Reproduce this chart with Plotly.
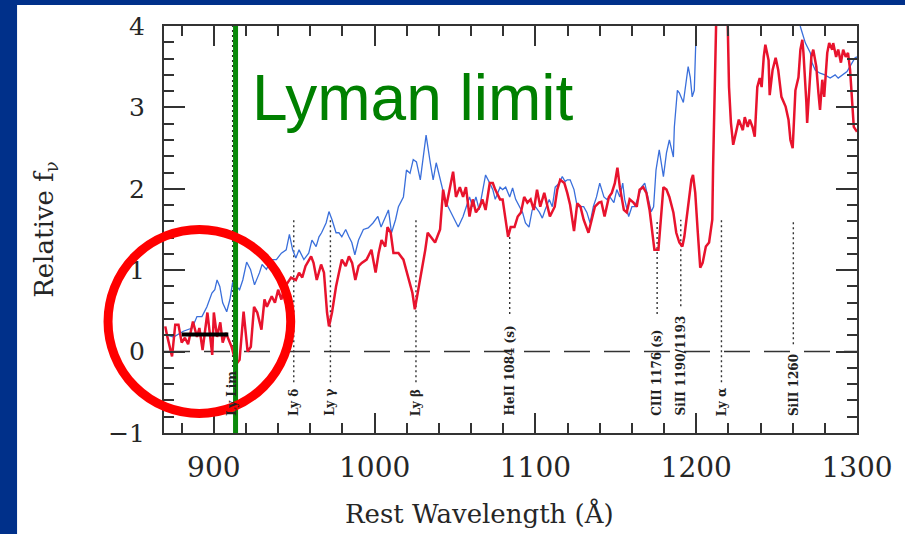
import plotly.graph_objects as go

# ---------------- data ----------------
blue_wl = [869.8, 875, 881, 886.5, 889.5, 892.6, 895.7, 898.8, 900.6, 902,
           903.7, 905.5, 908, 910, 911.7, 914, 916, 918, 920.4, 922.8,
           925.3, 928.4, 930, 932.7, 935.8, 938.9, 942, 945, 947, 949,
           951, 953, 956, 959, 961, 963.6, 965.4, 967, 969.8, 971.6,
           973.5, 976, 977.8, 979.6, 982, 984, 985.8, 987.7, 990, 993,
           996, 999, 1002, 1004, 1006.6, 1008.6, 1010.5, 1013, 1014.8, 1017.9,
           1019.8, 1022, 1024, 1026, 1028.4, 1030, 1032, 1034.6, 1036.4, 1038.3,
           1040.7, 1043.8, 1045.7, 1048.8, 1052, 1055, 1056.8, 1059, 1061, 1063,
           1065, 1067, 1069, 1071.6, 1073.5, 1075, 1078, 1079.6, 1081.5, 1084,
           1085.8, 1087.7, 1090, 1092, 1093.8, 1096, 1098, 1100, 1102.5, 1104.3,
           1106, 1108.6, 1110.5, 1112.3, 1114.8, 1116.7, 1118.5, 1119.8, 1121.6, 1124,
           1126, 1128, 1130, 1132, 1134, 1136, 1138, 1140, 1142.6, 1144.4,
           1146.3, 1148.8, 1150.6, 1152.5, 1154.3, 1155.5, 1158, 1160, 1161.7, 1164,
           1166, 1168, 1170, 1172, 1173.5, 1175, 1177, 1179.6, 1181.5, 1183.3,
           1185.8, 1186.4, 1188.3, 1189.5, 1192, 1193.8, 1195, 1196.3, 1197.5, 1198.8,
           1199.4, 1200, 1201, 1263, 1264.8, 1267.9, 1271, 1272, 1274, 1277,
           1280, 1283.3, 1286.4, 1288.3, 1290.7, 1293.8, 1297, 1298.8, 1300]
blue_flux = [0.21, 0.18, 0.25, 0.29, 0.43, 0.43, 0.55, 0.72, 0.76, 0.88,
             0.80, 0.60, 0.49, 0.64, 0.85, 0.80, 0.76, 0.88, 1.10, 1.01,
             0.82, 0.97, 1.07, 1.01, 1.13, 1.13, 1.21, 1.25, 1.44, 1.25,
             1.15, 1.25, 1.13, 1.21, 1.37, 1.29, 1.41, 1.46, 1.58, 1.72,
             1.62, 1.46, 1.46, 1.41, 1.50, 1.41, 1.34, 1.19, 1.37, 1.50,
             1.52, 1.58, 1.66, 1.53, 1.64, 1.74, 1.46, 1.62, 1.78, 1.90,
             2.23, 2.19, 2.36, 2.33, 2.11, 2.36, 2.66, 2.32, 2.11, 2.32,
             2.11, 1.87, 1.78, 1.66, 1.53, 1.66, 1.78, 1.90, 1.78, 1.90,
             1.74, 1.95, 2.17, 2.07, 1.99, 1.87, 2.02, 1.99, 2.02, 1.90,
             2.01, 1.87, 1.78, 1.71, 1.58, 1.53, 1.74, 1.78, 1.71, 1.64,
             1.74, 1.87, 1.78, 2.02, 2.07, 2.15, 2.09, 2.11, 2.11, 1.99,
             1.78, 1.78, 1.78, 1.71, 1.58, 1.78, 1.90, 2.07, 1.90, 1.87,
             1.90, 1.83, 1.99, 1.90, 2.07, 1.87, 1.66, 1.78, 1.78, 1.90,
             2.02, 2.07, 1.90, 1.72, 1.78, 2.23, 2.48, 2.15, 2.44, 2.60,
             2.39, 2.76, 3.21, 3.18, 3.06, 3.34, 3.50, 3.37, 3.13, 3.21,
             3.83, 4.07, 4.60, 4.60, 3.99, 3.79, 3.67, 3.55, 3.46, 3.42,
             3.40, 3.36, 3.40, 3.36, 3.40, 3.44, 3.55, 3.61, 3.62]

red_wl = [869.8, 871, 874, 876, 878, 880, 882, 884, 887, 889.5,
          891, 893, 896, 897, 899, 900, 902, 904, 905.5, 907.5,
          909, 911, 912.5, 914.5, 916, 918.5, 921, 923, 925, 927,
          929.6, 931.5, 933, 936, 938, 940, 942, 944, 948, 951,
          953, 955, 957, 960.5, 962, 964, 966.7, 968.5, 970.4, 971.6,
          973.5, 976, 977.8, 979.6, 982, 984, 986, 988, 990, 992,
          995, 998, 1000.6, 1002.5, 1004.3, 1006.6, 1008, 1010, 1011.7, 1014.8,
          1017.9, 1021, 1023.5, 1025, 1026.5, 1029, 1031.5, 1033, 1035, 1037.6,
          1040.7, 1042.6, 1044.5, 1047, 1048.8, 1050.6, 1053, 1055, 1056.8, 1059,
          1061, 1063, 1065.4, 1067, 1069, 1071.6, 1073.5, 1075, 1078, 1079.6,
          1081.5, 1083, 1084.6, 1087, 1089, 1091, 1093, 1095, 1097, 1099,
          1101, 1103, 1105.5, 1107, 1109, 1112, 1113.6, 1115.4, 1118, 1119.8,
          1121.6, 1124, 1126, 1128, 1130, 1133, 1135, 1137, 1139.5, 1141,
          1143, 1145.7, 1147.5, 1149.4, 1151, 1152.5, 1155, 1156.8, 1158.6, 1161,
          1163, 1164.8, 1167, 1169, 1171, 1172.8, 1174, 1176.5, 1177.8, 1179.6,
          1181.5, 1183.3, 1185.8, 1187.6, 1189.5, 1191.4, 1192.6, 1195, 1197, 1198,
          1199.4, 1201, 1202.5, 1204, 1206, 1208, 1210, 1210.5, 1211.7, 1212.3,
          1213, 1219, 1219.7, 1220.4, 1221.6, 1223, 1224.7, 1226.5, 1229, 1230.2,
          1232, 1233.3, 1235, 1236.4, 1238, 1239.5, 1240.7, 1242, 1243, 1245,
          1245.7, 1247.5, 1249.4, 1251, 1253, 1255.6, 1257.4, 1258.6, 1260, 1260.5,
          1261.7, 1263.6, 1264.8, 1266, 1266.7, 1268.5, 1269, 1270.4, 1271.6, 1272.8,
          1274.7, 1276, 1277, 1278.4, 1279.6, 1281.5, 1282.7, 1284.6, 1285.2, 1287,
          1288.3, 1290, 1291.4, 1293, 1294.4, 1295.7, 1297, 1298, 1299.4, 1300]
red_flux = [0.31, 0.19, -0.06, 0.33, 0.33, 0.11, 0.17, 0.09, 0.37, 0.18,
            0.29, 0.02, 0.48, 0.31, -0.04, 0.48, 0.18, 0.36, 0.11, 0.23,
            0.15, 0.06, -0.05, -0.14, -0.10, 0.49, 0.00, 0.06, 0.55, 0.48,
            0.27, 0.64, 0.55, 0.68, 0.60, 0.76, 0.64, 0.79, 0.91, 0.88,
            0.97, 0.91, 1.05, 1.17, 1.09, 0.88, 1.07, 0.97, 0.48, 0.31,
            0.48, 0.80, 0.97, 1.13, 1.05, 1.17, 1.09, 0.88, 1.05, 1.09,
            1.13, 1.25, 0.97, 1.21, 1.37, 1.29, 1.53, 1.46, 1.21, 1.21,
            1.13, 0.92, 0.72, 0.52, 0.68, 0.97, 1.25, 1.46, 1.41, 1.34,
            1.50, 1.99, 1.78, 2.02, 2.21, 1.90, 2.02, 1.90, 2.02, 1.66,
            1.87, 1.71, 1.78, 1.87, 1.74, 2.07, 2.07, 1.99, 1.87, 1.87,
            1.58, 1.41, 1.53, 1.53, 1.66, 1.71, 1.90, 1.83, 1.87, 1.74,
            1.99, 1.78, 1.95, 1.83, 1.66, 1.78, 1.99, 2.11, 2.07, 1.95,
            1.80, 1.48, 1.82, 1.78, 1.62, 1.46, 1.62, 1.78, 1.83, 1.84,
            1.66, 1.90, 1.95, 2.07, 2.26, 2.02, 1.74, 1.71, 1.87, 1.83,
            1.78, 1.99, 2.02, 1.95, 1.74, 1.46, 1.25, 1.25, 1.62, 2.02,
            1.99, 1.90, 1.71, 1.46, 1.34, 1.29, 1.41, 1.78, 2.11, 2.17,
            1.95, 1.46, 1.03, 1.09, 1.29, 1.34, 1.62, 2.27, 3.25, 4.07,
            4.60, 4.60, 3.99, 3.25, 2.81, 2.54, 2.69, 2.85, 2.72, 2.88,
            2.76, 2.85, 2.76, 2.64, 3.25, 3.36, 3.25, 3.62, 3.77, 3.58,
            3.15, 3.46, 3.61, 3.46, 3.13, 3.01, 2.85, 2.60, 2.50, 2.69,
            3.21, 3.37, 3.71, 3.83, 3.67, 3.06, 2.81, 3.25, 3.62, 3.71,
            3.50, 3.18, 2.97, 3.34, 3.13, 3.67, 3.79, 3.71, 3.79, 3.62,
            3.71, 3.55, 3.71, 3.62, 3.67, 3.46, 3.01, 2.76, 2.72, 2.70]

# absorption features
feature_labels = ["Ly Lim", "Ly δ", "Ly γ", "Ly β", "HeII 1084 (s)",
                  "CIII 1176 (s)", "SiII 1190/1193", "Ly α", "SiII 1260"]
feature_wl = [911.7, 949.7, 972.5, 1025.7, 1084.0, 1175.7, 1190.4, 1215.7, 1260.4]
feature_top = [4.0, 1.62, 1.62, 1.62, 1.41, 1.62, 1.62, 1.62, 1.62]

lyman_limit_wl = 913.5
mean_flux_wl = [880, 909]
mean_flux = [0.21, 0.21]
circle_center = (891.0, 0.37)   # wavelength, flux

x_ticks = [900, 1000, 1100, 1200, 1300]
y_ticks = [-1, 0, 1, 2, 3, 4]

# ---------------- geometry ----------------
W, H = 905, 534
L, R, T, B = 164, 862, 26, 433
XR = [869, 1300]
YR = [-1, 4]
px_per_x = (R - L) / (XR[1] - XR[0])
px_per_y = (B - T) / (YR[1] - YR[0])


def paper_x(px):
    return (px - L) / (R - L)


def paper_y(py):
    return (B - py) / (B - T)


def data_to_px(x, y):
    return L + (x - XR[0]) * px_per_x, B - (y - YR[0]) * px_per_y


SERIF = "DejaVu Serif"
INK = "#262626"
label_bottom = -0.8
label_char_px = 7.6

fig = go.Figure()

# dotted feature lines (from label top to feature_top)
dx, dy = [], []
for lab, wl, top in zip(feature_labels, feature_wl, feature_top):
    bot = label_bottom + (len(lab) * label_char_px + 4) / px_per_y
    dx += [wl, wl, None]
    dy += [bot, top, None]
fig.add_trace(go.Scatter(x=dx, y=dy, mode="lines",
                         line=dict(color="#333", width=1.4, dash="2px,3px"),
                         hoverinfo="skip", showlegend=False))

fig.add_trace(go.Scatter(x=blue_wl, y=blue_flux, mode="lines",
                         line=dict(color="#3a6fdb", width=1.3),
                         hoverinfo="skip", showlegend=False))
fig.add_trace(go.Scatter(x=red_wl, y=red_flux, mode="lines",
                         line=dict(color="#e8132d", width=2.5),
                         hoverinfo="skip", showlegend=False))
fig.add_trace(go.Scatter(x=mean_flux_wl, y=mean_flux, mode="lines",
                         line=dict(color="black", width=4),
                         hoverinfo="skip", showlegend=False))

shapes = []
# white slide panel
shapes.append(dict(type="rect", xref="paper", yref="paper", layer="below",
                   x0=paper_x(16), x1=paper_x(W + 10), y0=paper_y(H + 10), y1=paper_y(5),
                   fillcolor="white", line=dict(width=0)))
# dashed zero line
shapes.append(dict(type="line", xref="x", yref="y", x0=XR[0], x1=XR[1], y0=0, y1=0,
                   line=dict(color="#333", width=1.5, dash="26px,14px"), layer="below"))
# Lyman limit line
shapes.append(dict(type="line", xref="x", yref="y", x0=lyman_limit_wl, x1=lyman_limit_wl,
                   y0=YR[0], y1=YR[1], line=dict(color="#0a8a0a", width=5), layer="above"))
# red circle
cx, cy = data_to_px(*circle_center)
rad = 92
shapes.append(dict(type="circle", xref="paper", yref="paper",
                   x0=paper_x(cx - rad), x1=paper_x(cx + rad),
                   y0=paper_y(cy + rad), y1=paper_y(cy - rad),
                   line=dict(color="#ff0000", width=9), layer="above"))

annotations = []
for lab, wl in zip(feature_labels, feature_wl):
    annotations.append(dict(x=wl, y=label_bottom, xref="x", yref="y", text="<b>%s</b>" % lab,
                            textangle=-90, showarrow=False, xanchor="center", yanchor="bottom",
                            font=dict(family=SERIF, size=12, color="#222"), borderpad=0))
annotations.append(dict(x=922.5, y=3.11, xref="x", yref="y", text="Lyman limit",
                        showarrow=False, xanchor="left", yanchor="middle",
                        font=dict(family="Liberation Sans", size=64, color="#008000")))
annotations.append(dict(x=paper_x(45), y=paper_y(229), xref="paper", yref="paper",
                        xanchor="center", yanchor="middle",
                        text="Relative f<sub>ν</sub>", textangle=-90, showarrow=False,
                        font=dict(family=SERIF, size=26, color=INK)))
annotations.append(dict(x=paper_x(482), y=paper_y(513), xref="paper", yref="paper",
                        xanchor="center", yanchor="middle",
                        text="Rest Wavelength (Å)", showarrow=False,
                        font=dict(family=SERIF, size=26, color=INK)))

axis_common = dict(showgrid=False, zeroline=False, showline=True, linecolor="#333",
                   linewidth=2, mirror="allticks", ticks="inside", tickwidth=1.5,
                   tickcolor="#333")

fig.update_layout(
    width=W, height=H,
    margin=dict(l=L, r=W - R, t=T, b=H - B, pad=0),
    paper_bgcolor="#00308a", plot_bgcolor="white",
    showlegend=False, hovermode=False,
    shapes=shapes, annotations=annotations,
    xaxis=dict(range=XR, tickvals=x_ticks, ticklen=20,
               minor=dict(ticks="inside", dtick=20, tick0=900, ticklen=10,
                          tickwidth=1.5, tickcolor="#333"),
               tickfont=dict(family=SERIF, size=28, color=INK),
               ticklabelstandoff=8, **axis_common),
    yaxis=dict(range=YR, tickvals=y_ticks, ticklen=21,
               minor=dict(ticks="inside", dtick=0.2, tick0=0, ticklen=10,
                          tickwidth=1.5, tickcolor="#333"),
               tickfont=dict(family=SERIF, size=25, color=INK),
               ticklabelstandoff=12, **axis_common),
)

fig.write_html("out.html", config={"displayModeBar": False},
               post_script="document.body.style.margin='0';document.body.style.overflow='hidden';")
